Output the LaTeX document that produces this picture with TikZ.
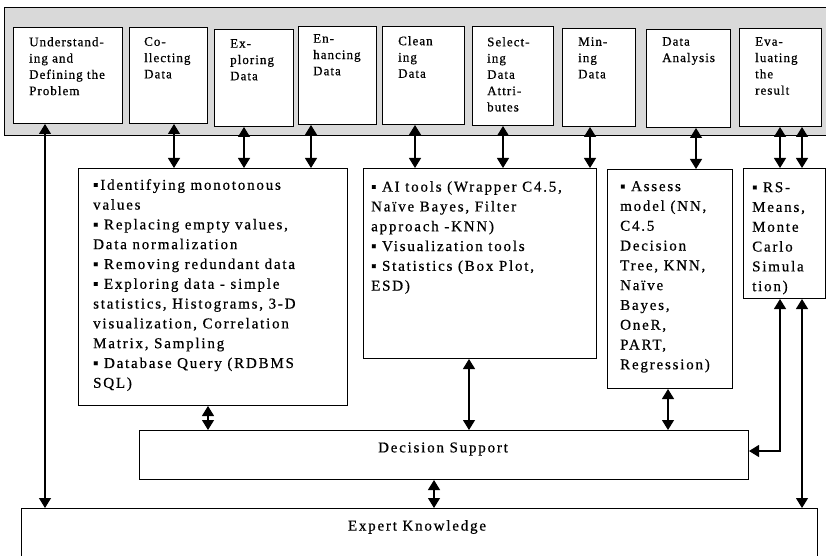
\documentclass[tikz,border=0pt]{standalone}
\usepackage{fontspec}
\setmainfont{Liberation Serif}
\newfontfamily\topfont{Liberation Serif}[LetterSpace=8,FakeBold=0.6]
\newfontfamily\midfont{Liberation Serif}[LetterSpace=12,FakeBold=0.6]
\usetikzlibrary{arrows.meta,calc}
\begin{document}
\begin{tikzpicture}[x=1pt,y=-1pt,
  box/.style={draw=black, fill=white, line width=1pt, inner sep=0pt, anchor=north west},
  toptxt/.style={anchor=north west, inner sep=0pt, align=left, font=\topfont\fontsize{13}{16.3}\selectfont},
  midtxt/.style={anchor=north west, inner sep=0pt, align=left, font=\midfont\fontsize{15}{19.8}\selectfont},
  ctxt/.style={inner sep=0pt, font=\midfont\fontsize{15}{19.8}\selectfont},
  conn/.style={line width=1.2pt, {Triangle[width=12pt,length=10pt]}-{Triangle[width=12pt,length=10pt]}},
]
\useasboundingbox (0,0) rectangle (826,556);
\clip (0,0) rectangle (826,556);

% gray band
\node[box, fill=gray!30, minimum width=830pt, minimum height=128pt] (band) at (4,7) {};

% top boxes
\node[box, minimum width=109pt, minimum height=96pt] (t1) at (13,27) {};
\node[box, minimum width=78pt, minimum height=96pt] (t2) at (129,27) {};
\node[box, minimum width=79pt, minimum height=97pt] (t3) at (214,29) {};
\node[box, minimum width=78pt, minimum height=98pt] (t4) at (298,26) {};
\node[box, minimum width=82pt, minimum height=98pt] (t5) at (382,26) {};
\node[box, minimum width=81pt, minimum height=99pt] (t6) at (472,26) {};
\node[box, minimum width=73pt, minimum height=98pt] (t7) at (562,28) {};
\node[box, minimum width=84pt, minimum height=98pt] (t8) at (646,29) {};
\node[box, minimum width=82pt, minimum height=98pt] (t9) at (739,28) {};

\node[toptxt] (l1) at (29,37) {Understand-\\ing and\\Defining the\\Problem};
\node[toptxt] (l2) at (144,37) {Co-\\llecting\\Data};
\node[toptxt] (l3) at (230,39) {Ex-\\ploring\\Data};
\node[toptxt] (l4) at (313,34) {En-\\hancing\\Data};
\node[toptxt] (l5) at (398,36) {Clean\\ing\\Data};
\node[toptxt] (l6) at (487,37) {Select-\\ing\\Data\\Attri-\\butes};
\node[toptxt] (l7) at (578,37) {Min-\\ing\\Data};
\node[toptxt] (l8) at (662,37) {Data\\Analysis};
\node[toptxt] (l9) at (755,37) {Eva-\\luating\\the\\result};

% middle boxes
\node[box, minimum width=269pt, minimum height=237pt] (ml) at (78,168) {};
\node[box, minimum width=233pt, minimum height=190pt] (mai) at (363,168) {};
\node[box, minimum width=125pt, minimum height=219pt] (mas) at (607,169) {};
\node[box, minimum width=82pt, minimum height=130pt] (mrs) at (743,168) {};

\node[midtxt] (tl) at (93,179) {▪Identifying monotonous\\values\\▪ Replacing empty values,\\Data normalization\\▪ Removing redundant data\\▪ Exploring data - simple\\statistics, Histograms, 3-D\\visualization, Correlation\\Matrix, Sampling\\▪ Database Query (RDBMS\\SQL)};
\node[midtxt] (tai) at (371,181) {▪ AI tools (Wrapper C4.5,\\Naïve Bayes, Filter\\approach -KNN)\\▪ Visualization tools\\▪ Statistics (Box Plot,\\ESD)};
\node[midtxt] (tas) at (620,181) {▪ Assess\\model (NN,\\C4.5\\Decision\\Tree, KNN,\\Naïve\\Bayes,\\OneR,\\PART,\\Regression)};
\node[midtxt] (trs) at (752,182) {▪ RS-\\Means,\\Monte\\Carlo\\Simula\\tion)};

% bottom boxes
\node[box, minimum width=609pt, minimum height=49pt] (ds) at (139,430) {};
\node[box, minimum width=796pt, minimum height=70pt] (ek) at (21,508) {};
\node[ctxt] (tds) at (443,449) {Decision Support};
\node[ctxt] (tek) at (417,527) {Expert Knowledge};

% connectors
\draw[conn] (45,0 |- t1.south) -- (45,0 |- ek.north);
\draw[conn] (174,0 |- t2.south) -- (174,0 |- ml.north);
\draw[conn] (244,0 |- t3.south) -- (244,0 |- ml.north);
\draw[conn] (311,0 |- t4.south) -- (311,0 |- ml.north);
\draw[conn] (415,0 |- t5.south) -- (415,0 |- mai.north);
\draw[conn] (503,0 |- t6.south) -- (503,0 |- mai.north);
\draw[conn] (590,0 |- t7.south) -- (590,0 |- mai.north);
\draw[conn] (696,0 |- t8.south) -- (696,0 |- mas.north);
\draw[conn] (780,0 |- t9.south) -- (780,0 |- mrs.north);
\draw[conn] (802,0 |- t9.south) -- (802,0 |- mrs.north);
\draw[conn] (208,0 |- ml.south) -- (208,0 |- ds.north);
\draw[conn] (469,0 |- mai.south) -- (469,0 |- ds.north);
\draw[conn] (668,0 |- mas.south) -- (668,0 |- ds.north);
\draw[conn] (434,0 |- ds.south) -- (434,0 |- ek.north);
\draw[conn] (802,0 |- mrs.south) -- (802,0 |- ek.north);
\draw[conn] (780,0 |- mrs.south) |- ($(ds.east)+(0,-4)$);
\end{tikzpicture}
\end{document}
